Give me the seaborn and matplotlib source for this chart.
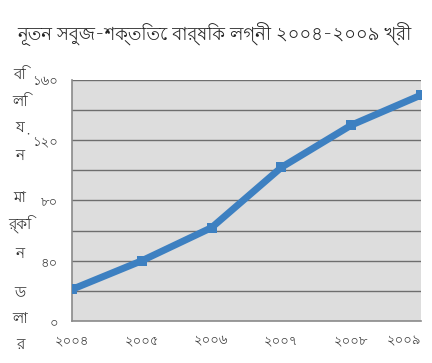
import numpy as np
import pandas as pd
import matplotlib
matplotlib.use("Agg")
import matplotlib.pyplot as plt
import seaborn as sns

# ডেটা
years = [2004, 2005, 2006, 2007, 2008, 2009]
year_labels = ["২০০৪", "২০০৫", "২০০৬", "২০০৭", "২০০৮", "২০০৯"]
investment = [21, 40, 62, 102, 130, 150]
y_ticks = [0, 40, 80, 120, 160]
y_tick_labels = ["০", "৪০", "৮০", "১২০", "১৬০"]
title = "নূতন সবুজ-শক্তিতে বার্ষিক লগ্নী ২০০৪-২০০৯ খ্রী"
ylabel_parts = ["বি", "লি", "য়", "ন", "মা", "র্কি", "ন", "ড", "লা", "র"]

df = pd.DataFrame({"year": years, "value": investment})

sns.set_style("white")
plt.rcParams["font.family"] = ["Lohit Bengali", "DejaVu Sans"]

W, H = 432, 363
fig = plt.figure(figsize=(W / 100, H / 100), dpi=100)
ax = fig.add_axes([72 / W, 1 - 321 / H, 349 / W, 241 / H])
ax.set_facecolor("#dddddd")

# গ্রিড লাইন
for v in range(20, 161, 20):
    ax.axhline(v, color="#6e6e6e", lw=1.0, zorder=1)

sns.lineplot(data=df, x="year", y="value", ax=ax, color="#3d80c1", lw=5,
             marker="s", markersize=7, markeredgewidth=0, zorder=3)

ax.set_xlim(2004, 2009)
ax.set_ylim(0, 160)
ax.set_xticks(years)
ax.set_xticklabels(year_labels, fontsize=9.5, color="#3a3a3a")
ax.get_xticklabels()[-1].set_horizontalalignment("right")
ax.set_yticks(y_ticks)
ax.set_yticklabels(y_tick_labels, fontsize=9.5, color="#3a3a3a")
ax.tick_params(axis="both", direction="out", length=4, color="#888888", pad=6)
ax.set_xlabel("")
ax.set_ylabel("")
for side in ["top", "right"]:
    ax.spines[side].set_visible(False)
for side in ["left", "bottom"]:
    ax.spines[side].set_color("#8a8a8a")
    ax.spines[side].set_linewidth(1.2)

fig.text(17 / W, 1 - 35 / H, title, fontsize=13, color="#222222", ha="left", va="center")

# উল্লম্ব লেবেল (প্রতিটি অক্ষর আলাদা লাইনে)
label_y_px = [75, 102, 128, 155, 197, 225, 253, 293, 318, 344]
for part, ypx in zip(ylabel_parts, label_y_px):
    fig.text(20 / W, 1 - ypx / H, part, fontsize=11,
             color="#333333", ha="center", va="center")

fig.savefig("out.png", dpi=100)
